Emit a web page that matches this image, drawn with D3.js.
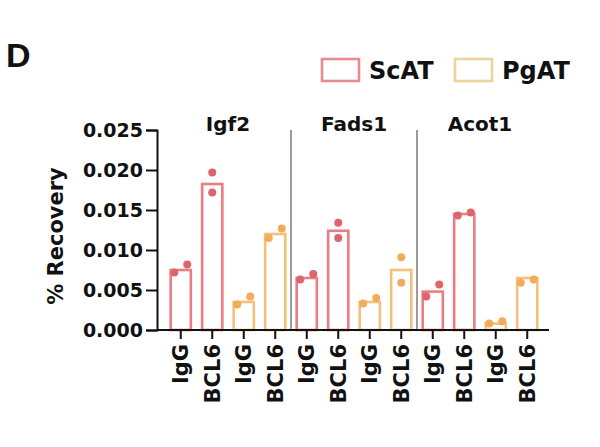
<!DOCTYPE html>
<html lang="en">
<head>
<meta charset="UTF-8">
<title>% Recovery</title>
<script src="https://cdn.jsdelivr.net/npm/d3@7"></script>
<style>
  body { margin: 0; background: #fff; }
  text { font-family: "DejaVu Sans", sans-serif; font-weight: bold; fill: #111; }
</style>
</head>
<body>
<script>
// genes, tissues and antibodies
const genes = ["Igf2", "Fads1", "Acot1"];
const tissues = ["ScAT", "PgAT"];
const antibodies = ["IgG", "BCL6"];

// bar heights per gene, order: ScAT IgG, ScAT BCL6, PgAT IgG, PgAT BCL6
const igf2Means  = [0.0075, 0.01825, 0.0035, 0.0120];
const fads1Means = [0.0065, 0.0124, 0.0035, 0.0075];
const acot1Means = [0.0048, 0.0145, 0.0008, 0.0065];

// replicate points (left to right)
const igf2Reps  = [[0.0072, 0.0082], [0.0197, 0.0172], [0.0032, 0.0042], [0.0115, 0.0127]];
const fads1Reps = [[0.0063, 0.0070], [0.0134, 0.0115], [0.0033, 0.0040], [0.0091, 0.0059]];
const acot1Reps = [[0.0042, 0.0057], [0.0143, 0.0147], [0.0008, 0.0011], [0.0059, 0.0063]];

const yTicks = [0, 0.005, 0.010, 0.015, 0.020, 0.025];

const width = 600, height = 447;
const colors = {ScAT: "#ec7d83", PgAT: "#f4c07a"};
const dotColors = {ScAT: "#dd666d", PgAT: "#f2ac5a"};
const legendColors = {ScAT: "#e88b91", PgAT: "#eed29c"};

// flatten into bars
const means = [igf2Means, fads1Means, acot1Means];
const reps = [igf2Reps, fads1Reps, acot1Reps];
const bars = [];
genes.forEach((g, gi) => {
  let k = 0;
  tissues.forEach(t => {
    antibodies.forEach(a => {
      bars.push({id: g + "-" + t + "-" + a, gene: g, tissue: t, ab: a,
                 value: means[gi][k], reps: reps[gi][k]});
      k++;
    });
  });
});

const svg = d3.select("body").append("svg")
  .attr("width", width).attr("height", height)
  .attr("viewBox", [0, 0, width, height]);

const x = d3.scaleBand()
  .domain(bars.map(d => d.id))
  .range([165, 543])
  .paddingInner(0.36)
  .paddingOuter(0.18);

const y = d3.scaleLinear().domain([0, 0.025]).range([330, 130]);

// group separators
const sepIdx = [4, 8];
svg.append("g").selectAll("line")
  .data(sepIdx)
  .join("line")
  .attr("x1", i => (x(bars[i - 1].id) + x(bars[i].id) + x.bandwidth()) / 2)
  .attr("x2", i => (x(bars[i - 1].id) + x(bars[i].id) + x.bandwidth()) / 2)
  .attr("y1", y(0.025))
  .attr("y2", y(0))
  .attr("stroke", "#7a7a7a")
  .attr("stroke-width", 1.5);

// bars
svg.append("g").selectAll("rect")
  .data(bars)
  .join("rect")
  .attr("x", d => x(d.id))
  .attr("width", x.bandwidth())
  .attr("y", d => y(d.value))
  .attr("height", d => y(0) - y(d.value))
  .attr("fill", "#fff")
  .attr("stroke", d => colors[d.tissue])
  .attr("stroke-width", 2.6);

// replicate dots, spread sideways when they overlap
const dots = [];
bars.forEach(b => {
  const close = Math.abs(y(b.reps[0]) - y(b.reps[1])) < 13;
  b.reps.forEach((v, i) => {
    const off = close ? (i === 0 ? -6.5 : 6.5) : 0;
    dots.push({cx: x(b.id) + x.bandwidth() / 2 + off, v: v, tissue: b.tissue});
  });
});
svg.append("g").selectAll("circle")
  .data(dots)
  .join("circle")
  .attr("cx", d => d.cx)
  .attr("cy", d => y(d.v))
  .attr("r", 4)
  .attr("fill", d => dotColors[d.tissue]);

// y axis
svg.append("g")
  .attr("transform", "translate(157,0)")
  .call(d3.axisLeft(y).tickValues(yTicks).tickFormat(d3.format(".3f")).tickSize(11).tickPadding(3))
  .call(g => g.select(".domain").attr("stroke", "#111").attr("stroke-width", 2))
  .call(g => g.selectAll(".tick line").attr("stroke", "#111").attr("stroke-width", 2))
  .call(g => g.selectAll(".tick text")
    .attr("font-family", "DejaVu Sans").attr("font-weight", "bold")
    .attr("font-size", 19).attr("fill", "#111"));

// x axis
svg.append("g")
  .attr("transform", "translate(0,330)")
  .call(d3.axisBottom(x).tickFormat(id => id.split("-")[2]).tickSize(9).tickSizeOuter(0))
  .call(g => g.select(".domain").attr("d", "M157,0H549").attr("stroke", "#111").attr("stroke-width", 2))
  .call(g => g.selectAll(".tick line").attr("stroke", "#111").attr("stroke-width", 2))
  .call(g => g.selectAll(".tick text")
    .attr("font-family", "DejaVu Sans").attr("font-weight", "bold")
    .attr("font-size", 21).attr("fill", "#111")
    .attr("transform", "rotate(-90)")
    .attr("text-anchor", "end")
    .attr("x", -14).attr("y", 0).attr("dy", "0.36em"));

// gene titles
svg.append("g").selectAll("text")
  .data(genes)
  .join("text")
  .attr("x", (g, gi) => (x(bars[gi * 4].id) + x(bars[gi * 4 + 3].id) + x.bandwidth()) / 2)
  .attr("y", 131)
  .attr("text-anchor", "middle")
  .attr("font-size", 20)
  .text(g => g);

// y label
svg.append("text")
  .attr("transform", "translate(63,236) rotate(-90)")
  .attr("text-anchor", "middle")
  .attr("font-size", 21)
  .text("% Recovery");

// panel letter
svg.append("text")
  .attr("x", 6).attr("y", 67)
  .style("font-family", "'Liberation Sans', Arial, sans-serif")
  .attr("font-size", 34)
  .text("D");

// legend
const legendX = {ScAT: 321, PgAT: 454};
const leg = svg.append("g").selectAll("g")
  .data(tissues)
  .join("g")
  .attr("transform", t => `translate(${legendX[t]},58)`);
leg.append("rect")
  .attr("x", 1).attr("y", 1)
  .attr("width", 37).attr("height", 22)
  .attr("fill", "#fff")
  .attr("stroke", t => legendColors[t])
  .attr("stroke-width", 2.6);
leg.append("text")
  .attr("x", 48).attr("y", 21)
  .attr("font-size", 24)
  .text(t => t);
</script>
</body>
</html>
